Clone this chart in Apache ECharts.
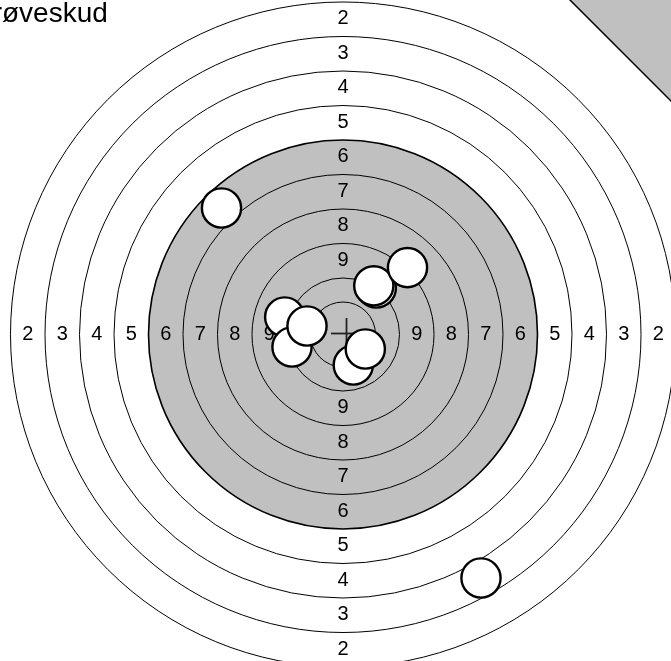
<!DOCTYPE html>
<html><head><meta charset="utf-8">
<script src="https://cdn.jsdelivr.net/npm/echarts@6/dist/echarts.min.js"></script>
<style>html,body{margin:0;padding:0;background:#fff}#c{width:671px;height:661px}</style>
</head><body><div id="c"></div>
<script>
// Target title
const titleText = 'Prøveskud';
// Ring numbers and their outer radii (px-scale units from target centre)
const ringNumbers = [2, 3, 4, 5, 6, 7, 8, 9, 10];
const ringOuterRadius = [332.5, 298, 263.5, 229, 194.5, 160, 125.5, 91, 56.5];
const innerTenRadius = 32.5;
const shadedRing = 6;
// Shots (drawing order), units from target centre, y up
const shotX = [-121.5, 138, 33.3, 30.8, 64.5, -58.3, -51, -36, 10.3, 22.3];
const shotY = [126.5, -243.5, 46.5, 48.7, 66.9, 17.5, -12.5, 8.5, -30.5, -14.5];
const shotRadius = 19.6;
// Mean point of impact marker
const groupCenterX = [3.5];
const groupCenterY = [1];
const crossHalf = 15.5;
// Grey corner patch (top right)
const cornerX = [222, 340, 340];
const cornerY = [339.5, 339.5, 221.5];

const FONT = '"Liberation Sans", Arial, Helvetica, sans-serif';
const chart = echarts.init(document.getElementById('c'), null, {renderer: 'canvas'});

const ringData = ringOuterRadius.map((r, i) => [0, 0, r, ringNumbers[i]]);
ringData.push([0, 0, innerTenRadius, 11]);

const labelData = [];
for (let i = 0; i < ringNumbers.length - 1; i++) {
  const mid = (ringOuterRadius[i] + ringOuterRadius[i + 1]) / 2;
  const n = ringNumbers[i];
  labelData.push([-mid, 0, n], [mid, 0, n], [0, mid, n], [0, -mid, n]);
}

const shotData = shotX.map((x, i) => [x, shotY[i], shotRadius]);

chart.setOption({
  animation: false,
  title: {
    text: titleText, left: -26, top: 0, padding: 0,
    textStyle: {fontSize: 28, fontWeight: 'normal', color: '#000', fontFamily: FONT}
  },
  grid: {left: 0, right: 0, top: 0, bottom: 0},
  xAxis: {type: 'value', min: -343, max: 328, show: false},
  yAxis: {type: 'value', min: -326.5, max: 334.5, show: false},
  series: [
    {
      type: 'custom', clip: false, data: ringData,
      renderItem: (params, api) => {
        const c = api.coord([api.value(0), api.value(1)]);
        const r = api.size([api.value(2), 0])[0];
        const n = api.value(3);
        return {
          type: 'circle', shape: {cx: c[0], cy: c[1], r: r},
          style: {fill: n === shadedRing ? '#c0c0c0' : null, stroke: '#000', lineWidth: n === shadedRing ? 1.6 : 1}
        };
      }
    },
    {
      type: 'custom', clip: false,
      data: [cornerX.map((x, i) => [x, cornerY[i]])].map(p => [p[0][0], p[0][1], p[1][0], p[1][1], p[2][0], p[2][1]]),
      renderItem: (params, api) => {
        const pts = [];
        for (let k = 0; k < 3; k++) pts.push(api.coord([api.value(2 * k), api.value(2 * k + 1)]));
        return {type: 'polygon', shape: {points: pts}, style: {fill: '#c0c0c0', stroke: '#000', lineWidth: 1.5}};
      }
    },
    {
      type: 'custom', clip: false, data: labelData,
      renderItem: (params, api) => {
        const c = api.coord([api.value(0), api.value(1)]);
        return {
          type: 'text', x: c[0], y: c[1] - 0.5,
          style: {text: String(api.value(2)), fill: '#000', font: '20px ' + FONT, align: 'center', verticalAlign: 'middle'}
        };
      }
    },
    {
      type: 'custom', clip: false, data: groupCenterX.map((x, i) => [x, groupCenterY[i]]),
      renderItem: (params, api) => {
        const c = api.coord([api.value(0), api.value(1)]);
        const h = api.size([crossHalf, 0])[0];
        return {
          type: 'group', children: [
            {type: 'line', shape: {x1: c[0] - h, y1: c[1], x2: c[0] + h, y2: c[1]}, style: {stroke: '#222', lineWidth: 1.8}},
            {type: 'line', shape: {x1: c[0], y1: c[1] - h, x2: c[0], y2: c[1] + h}, style: {stroke: '#222', lineWidth: 1.8}}
          ]
        };
      }
    },
    {
      type: 'custom', clip: false, data: shotData,
      renderItem: (params, api) => {
        const c = api.coord([api.value(0), api.value(1)]);
        const r = api.size([api.value(2), 0])[0];
        return {type: 'circle', shape: {cx: c[0], cy: c[1], r: r}, style: {fill: '#fff', stroke: '#000', lineWidth: 2.4}};
      }
    }
  ]
});
</script>
</body></html>
